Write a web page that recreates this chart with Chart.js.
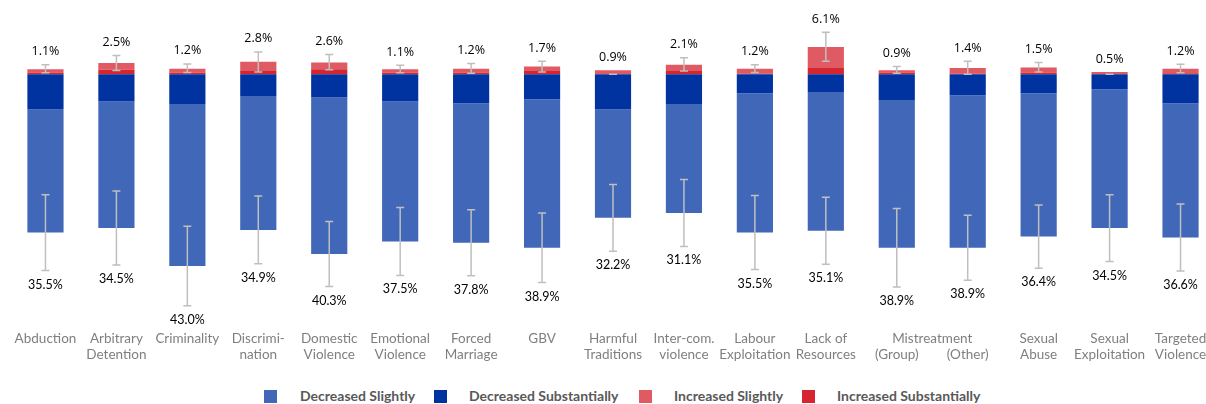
<!DOCTYPE html>
<html>
<head>
<meta charset="utf-8">
<script src="https://cdn.jsdelivr.net/npm/chart.js@4/dist/chart.umd.min.js"></script>
<style>
  html, body { margin: 0; padding: 0; background: #fff; overflow: hidden; width: 1206px; height: 404px; }
  #wrap { position: absolute; left: 0; top: 0; width: 1226px; height: 372px; }
  #legend { position: absolute; left: 0; top: 389px; width: 1206px; height: 15px; font-family: Lato, "Open Sans", sans-serif; font-weight: bold; font-size: 14px; color: #595959; }
  #legend .box { position: absolute; top: 1px; width: 13px; height: 13px; }
  #legend .txt { position: absolute; top: -1px; white-space: nowrap; line-height: 16px; }
</style>
</head>
<body>
<div id="wrap"><canvas id="c" width="1226" height="372"></canvas></div>
<div id="legend"></div>
<script>
// Categories (multi-line tick labels)
const categories = [
  ['Abduction'], ['Arbitrary', 'Detention'], ['Criminality'], ['Discrimi-', 'nation'],
  ['Domestic', 'Violence'], ['Emotional', 'Violence'], ['Forced', 'Marriage'], ['GBV'],
  ['Harmful', 'Traditions'], ['Inter-com.', 'violence'], ['Labour', 'Exploitation'],
  ['Lack of', 'Resources'], ['', '(Group)'], ['', '(Other)'], ['Sexual', 'Abuse'],
  ['Sexual', 'Exploitation'], ['Targeted', 'Violence']
];
// Shared heading spanning two categories
const groupLabels = [{ text: 'Mistreatment', from: 12, to: 13 }];

// Shares (%) of each response
const decreasedSlightly      = [27.6, 28.4, 36.3, 30.0, 35.1, 31.4, 31.3, 33.3, 24.3, 24.4, 31.2, 31.1, 33.1, 34.2, 32.1, 31.1, 30.1];
const decreasedSubstantially = [7.9, 6.1, 6.7, 4.9, 5.2, 6.1, 6.5, 5.6, 7.9, 6.7, 4.3, 4.0, 5.8, 4.7, 4.3, 3.4, 6.5];
const increasedSubstantially = [0.4, 1.0, 0.3, 0.7, 1.1, 0.3, 0.4, 0.7, 0.0, 0.7, 0.1, 1.4, 0.4, 0.1, 0.4, 0.0, 0.2];
const increasedSlightly      = [0.7, 1.5, 0.9, 2.1, 1.5, 0.8, 0.8, 1.0, 0.9, 1.4, 1.1, 4.7, 0.5, 1.3, 1.1, 0.5, 1.0];

// Error bars: increase side as low/high bounds, decrease side as +/- half-width
const increaseErrLow  = [0.3, 0.8, 0.4, 0.5, 1.0, 0.3, 0.2, 0.5, 0.0, 0.7, 0.4, 2.9, 0.2, 0.0, 0.5, 0.0, 0.3];
const increaseErrHigh = [2.1, 4.2, 2.3, 5.0, 4.4, 2.0, 2.4, 2.9, 0.0, 3.7, 2.1, 9.4, 1.7, 2.9, 2.6, 0.0, 2.2];
const decreaseErr     = [8.5, 8.3, 8.9, 7.6, 7.3, 7.6, 7.4, 7.8, 7.5, 7.5, 8.3, 7.5, 8.8, 7.3, 7.1, 7.5, 7.5];

const COLORS = {
  decSlight: '#4167B8',
  decSubst: '#0033A0',
  incSlight: '#E05A63',
  incSubst: '#D5262F'
};

const incTotal = increasedSubstantially.map((v, i) => v + increasedSlightly[i]);
const decTotal = decreasedSubstantially.map((v, i) => v + decreasedSlightly[i]);

// Error bars and value labels
const annotate = {
  id: 'annotate',
  afterDraw(chart) {
    const ctx = chart.ctx;
    const x = chart.scales.x, y = chart.scales.y;
    ctx.save();
    ctx.strokeStyle = '#BFBFBF';
    ctx.lineWidth = 1.5;
    const cap = 4;
    const bar = (px, y1, y2) => {
      ctx.beginPath();
      ctx.moveTo(px, y1); ctx.lineTo(px, y2);
      ctx.moveTo(px - cap, y1); ctx.lineTo(px + cap, y1);
      ctx.moveTo(px - cap, y2); ctx.lineTo(px + cap, y2);
      ctx.stroke();
    };
    categories.forEach((c, i) => {
      const px = x.getPixelForValue(i);
      // increase side
      const yLo = y.getPixelForValue(increaseErrLow[i]);
      const yHi = y.getPixelForValue(increaseErrHigh[i]);
      bar(px, yHi, yLo);
      // decrease side
      const dTop = y.getPixelForValue(-(decTotal[i] - decreaseErr[i]));
      const dBot = y.getPixelForValue(-(decTotal[i] + decreaseErr[i]));
      bar(px, dTop, dBot);

      ctx.fillStyle = '#000';
      ctx.textAlign = 'center';
      ctx.textBaseline = 'middle';
      ctx.font = '12.5px "Open Sans", sans-serif';
      const topY = Math.min(y.getPixelForValue(incTotal[i]), yHi) - 13;
      ctx.fillText(incTotal[i].toFixed(1) + '%', px, topY);
      ctx.font = '12.5px Lato, sans-serif';
      ctx.fillText(decTotal[i].toFixed(1) + '%', px, dBot + 14);
    });

    // headings shared by neighbouring categories
    const items = x.getLabelItems();
    groupLabels.forEach(g => {
      const it = items[g.from];
      if (!it) return;
      const ty = it.options.translation[1] + it.textOffset;
      const mid = (x.getPixelForValue(g.from) + x.getPixelForValue(g.to)) / 2;
      ctx.font = it.font.string;
      ctx.fillStyle = it.options.color || '#7F7F7F';
      ctx.textAlign = 'center';
      ctx.textBaseline = 'middle';
      ctx.fillText(g.text, mid, ty);
    });
    ctx.restore();
  }
};

new Chart(document.getElementById('c'), {
  type: 'bar',
  data: {
    labels: categories,
    datasets: [
      { label: 'Decreased Substantially', data: decreasedSubstantially.map(v => -v), backgroundColor: COLORS.decSubst },
      { label: 'Decreased Slightly', data: decreasedSlightly.map(v => -v), backgroundColor: COLORS.decSlight },
      { label: 'Increased Substantially', data: increasedSubstantially, backgroundColor: COLORS.incSubst },
      { label: 'Increased Slightly', data: increasedSlightly, backgroundColor: COLORS.incSlight }
    ]
  },
  options: {
    responsive: false,
    animation: false,
    devicePixelRatio: 1,
    layout: { padding: { left: 10, right: 10, top: 0, bottom: 0 } },
    datasets: { bar: { barPercentage: 0.51, categoryPercentage: 1, borderWidth: 0 } },
    plugins: { legend: { display: false }, tooltip: { enabled: false } },
    scales: {
      x: {
        stacked: true,
        grid: { display: false, drawTicks: false },
        border: { display: false },
        ticks: {
          autoSkip: false, maxRotation: 0, minRotation: 0, padding: 9,
          color: '#7F7F7F', font: { family: 'Lato', size: 13.5 }
        }
      },
      y: {
        stacked: true, display: false,
        min: -55.46, max: 16.63
      }
    }
  },
  plugins: [annotate]
});

// Legend
const legendItems = [
  { text: 'Decreased Slightly', color: COLORS.decSlight, box: 264, txt: 300 },
  { text: 'Decreased Substantially', color: COLORS.decSubst, box: 434, txt: 469 },
  { text: 'Increased Slightly', color: COLORS.incSlight, box: 639, txt: 674 },
  { text: 'Increased Substantially', color: COLORS.incSubst, box: 802, txt: 837 }
];
const lg = document.getElementById('legend');
legendItems.forEach(it => {
  const b = document.createElement('div');
  b.className = 'box'; b.style.left = it.box + 'px'; b.style.background = it.color;
  const t = document.createElement('div');
  t.className = 'txt'; t.style.left = it.txt + 'px'; t.textContent = it.text;
  lg.appendChild(b); lg.appendChild(t);
});
</script>
</body>
</html>
